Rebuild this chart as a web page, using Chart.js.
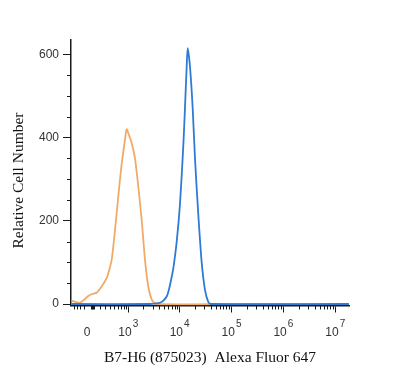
<!DOCTYPE html>
<html>
<head>
<meta charset="utf-8">
<script src="https://cdn.jsdelivr.net/npm/chart.js@4/dist/chart.umd.min.js"></script>
<style>
  html, body { margin: 0; padding: 0; background: #fff; }
  #wrap { width: 400px; height: 378px; }
</style>
</head>
<body>
<div id="wrap"><canvas id="c" width="400" height="378"></canvas></div>
<script>
// ---- data (x in display channel units: ~log10 decade position of the biexponential axis) ----
const ctrlPos   = [1.906, 2.006, 2.069, 2.146, 2.229, 2.301, 2.391, 2.487, 2.584, 2.628, 2.680, 2.744, 2.807, 2.859, 2.904, 2.936, 2.969, 3.013, 3.066, 3.129, 3.193, 3.258, 3.322, 3.385, 3.462, 3.547, 5.0, 7.25];
const ctrlCount = [8, 4, 3, 10, 19, 24, 27, 42, 62, 80, 106, 178, 258, 322, 366, 394, 420, 406, 386, 350, 282, 202, 106, 42, 8, 0, 0, 0];

const b7Pos   = [1.90, 3.420, 3.514, 3.611, 3.674, 3.740, 3.784, 3.836, 3.867, 3.933, 3.996, 4.060, 4.092, 4.125, 4.144, 4.189, 4.241, 4.285, 4.349, 4.414, 4.478, 4.541, 4.593, 7.25];
const b7Count = [0, 0, 1, 3, 8, 18, 35, 65, 85, 150, 240, 380, 470, 570, 615, 570, 470, 350, 215, 100, 34, 5, 0, 0];

const yMajorTicks = [0, 200, 400, 600];
const yMinorTicks = [50, 100, 150, 250, 300, 350, 450, 500, 550];

const xMajorValues = [1e3, 1e4, 1e5, 1e6, 1e7];
const xTickBase    = ['0', '10', '10', '10', '10', '10'];
const xTickExp     = ['', '3', '4', '5', '6', '7'];
const xLabelValues = [0, 1e3, 1e4, 1e5, 1e6, 1e7];
const xMinorValues = [-200, -150, -100, -50, 60, 70, 80, 90, 100, 200, 300, 400, 500, 600, 700, 800, 900,
  2e3,3e3,4e3,5e3,6e3,7e3,8e3,9e3, 2e4,3e4,4e4,5e4,6e4,7e4,8e4,9e4,
  2e5,3e5,4e5,5e5,6e5,7e5,8e5,9e5, 2e6,3e6,4e6,5e6,6e6,7e6,8e6,9e6];

// biexponential-like (asinh) transform from intensity to display channel
const C = 328;
function toAxis(v) {
  return 3 + (Math.asinh(v / C) - Math.asinh(1000 / C)) / Math.LN10;
}

const AXIS = '#1a1a1a';
const LABEL = '#333';

const extraPlugin = {
  id: 'extra',
  afterDraw(chart) {
    const ctx = chart.ctx;
    const xs = chart.scales.x, ys = chart.scales.y;
    ctx.save();
    ctx.strokeStyle = AXIS;
    ctx.lineWidth = 1;
    // y minor ticks
    yMinorTicks.forEach(v => {
      const py = Math.round(ys.getPixelForValue(v)) + 0.5;
      ctx.beginPath(); ctx.moveTo(xs.left - 4, py); ctx.lineTo(xs.left, py); ctx.stroke();
    });
    // x minor ticks
    xMinorValues.forEach(v => {
      const px = Math.round(xs.getPixelForValue(toAxis(v))) + 0.5;
      ctx.beginPath(); ctx.moveTo(px, ys.bottom); ctx.lineTo(px, ys.bottom + 4); ctx.stroke();
    });
    // x tick labels with superscript exponents
    ctx.fillStyle = LABEL;
    ctx.textBaseline = 'alphabetic';
    ctx.textAlign = 'left';
    xLabelValues.forEach((v, i) => {
      const px = xs.getPixelForValue(toAxis(v));
      ctx.font = '12px "Liberation Sans", Arial, sans-serif';
      const w1 = ctx.measureText(xTickBase[i]).width;
      ctx.font = '10px "Liberation Sans", Arial, sans-serif';
      const w2 = xTickExp[i] ? ctx.measureText(xTickExp[i]).width + 1 : 0;
      const left = px - (w1 + w2) / 2;
      ctx.font = '12px "Liberation Sans", Arial, sans-serif';
      ctx.fillText(xTickBase[i], left, ys.bottom + 30);
      if (xTickExp[i]) {
        ctx.font = '10px "Liberation Sans", Arial, sans-serif';
        ctx.fillText(xTickExp[i], left + w1 + 1, ys.bottom + 21.5);
      }
    });
    ctx.restore();
  }
};

new Chart(document.getElementById('c'), {
  type: 'line',
  data: {
    datasets: [
      {
        label: 'B7-H6',
        data: b7Pos.map((x, i) => ({ x: x, y: b7Count[i] })),
        borderColor: '#2E7BD6',
        borderWidth: 1.8,
        pointRadius: 0,
        tension: 0.25,
        fill: false,
        order: 0
      },
      {
        label: 'Isotype',
        data: ctrlPos.map((x, i) => ({ x: x, y: ctrlCount[i] })),
        borderColor: '#F0AA68',
        borderWidth: 1.8,
        pointRadius: 0,
        tension: 0.25,
        fill: false,
        order: 1
      }
    ]
  },
  options: {
    responsive: false,
    animation: false,
    devicePixelRatio: 1,
    layout: { padding: { top: 40, right: 51, bottom: 0, left: 0 } },
    plugins: { legend: { display: false }, tooltip: { enabled: false } },
    scales: {
      x: {
        type: 'linear',
        min: 1.896,
        max: 7.253,
        afterBuildTicks: s => { s.ticks = xMajorValues.map(v => ({ value: toAxis(v) })); },
        afterFit: s => { s.height = 72.5; s.paddingLeft = 0; s.paddingRight = 0; },
        ticks: { display: false },
        grid: { display: true, drawOnChartArea: false, drawTicks: true, tickLength: 7, color: AXIS, lineWidth: 1 },
        border: { display: true, color: AXIS, width: 1.5 },
        title: {
          display: true,
          text: 'B7-H6 (875023)  Alexa Fluor 647',
          font: { family: '"Liberation Serif", "Times New Roman", serif', size: 15.5 },
          color: '#111',
          padding: { top: 0, bottom: 10.5 }
        }
      },
      y: {
        type: 'linear',
        min: -3.6,
        max: 634.3,
        afterBuildTicks: s => { s.ticks = yMajorTicks.map(v => ({ value: v })); },
        afterFit: s => { s.width = 71; s.paddingTop = 0; s.paddingBottom = 0; },
        ticks: {
          font: { family: '"Liberation Sans", Arial, sans-serif', size: 12 },
          color: LABEL,
          padding: 4
        },
        grid: { display: true, drawOnChartArea: false, drawTicks: true, tickLength: 8, color: AXIS, lineWidth: 1 },
        border: { display: true, color: AXIS, width: 1.5 },
        title: {
          display: true,
          text: 'Relative Cell Number    ',
          font: { family: '"Liberation Serif", "Times New Roman", serif', size: 15.5 },
          color: '#111',
          padding: { top: 10, bottom: 0 }
        }
      }
    }
  },
  plugins: [extraPlugin]
});
</script>
</body>
</html>
